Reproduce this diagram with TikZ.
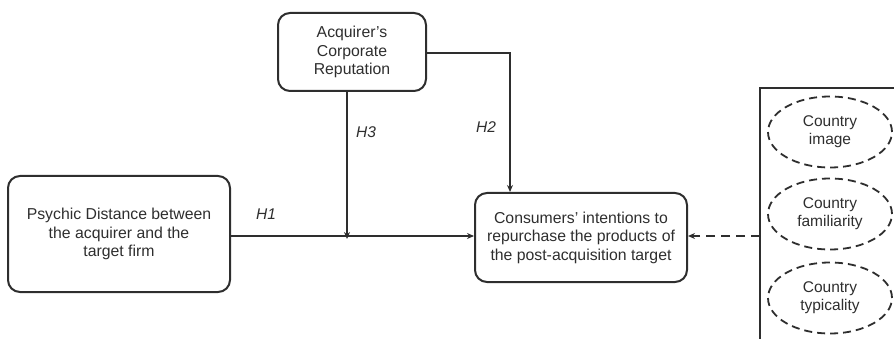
\documentclass[tikz,border=0pt]{standalone}
\usepackage{fontspec}
\setmainfont{Liberation Sans}
\usetikzlibrary{shapes.geometric,arrows.meta}
\definecolor{ink}{HTML}{2E2E2E}
\tikzset{
  construct/.style={draw=ink, line width=2pt, rounded corners=12pt, align=center,
    font=\fontsize{15.8}{18.5}\selectfont, text=ink, inner sep=0pt},
  factor/.style={ellipse, draw=ink, line width=1.8pt, dash pattern=on 8pt off 5pt,
    minimum width=124pt, minimum height=71pt, align=center,
    font=\fontsize{15.5}{18}\selectfont, text=ink, inner sep=0pt},
  link/.style={draw=ink, line width=1.4pt, -{Stealth[length=7pt,width=6pt]}},
  hyp/.style={font=\itshape\fontsize{15.5}{16}\selectfont, text=ink}
}
\begin{document}
\begin{tikzpicture}[x=1pt,y=-1pt]
  \useasboundingbox (0,0) rectangle (894,339);
  \clip (0,0) rectangle (894,339);
  % constructs
  \node[construct, minimum width=148pt, minimum height=78pt] (rep) at (352,52)
    {Acquirer's\\Corporate\\Reputation};
  \node[construct, minimum width=222pt, minimum height=116pt] (pd) at (119,234)
    {Psychic Distance between\\the acquirer and the\\target firm};
  \node[construct, minimum width=212pt, minimum height=89pt] (ci) at (581,237.5)
    {Consumers' intentions to\\repurchase the products of\\the post-acquisition target};
  % country-level frame, running off the page on the right and below
  \draw[ink, line width=2pt] (900,88) -- (760,88) -- (760,345);
  \coordinate (frame) at (760,236);
  \node[factor] (img) at (830,132) {Country\\image};
  \node[factor] (fam) at (830,214) {Country\\familiarity};
  \node[factor] (typ) at (830,298) {Country\\typicality};
  % hypothesised paths
  \draw[link] (pd.east |- 0,236) -- (ci.west |- 0,236);
  \coordinate (mod) at (347,236);
  \draw[link] (rep.south -| mod) -- ([yshift=-3pt]mod);
  \draw[link] (rep.east |- 0,53) -| (ci.north -| 510,0);
  \draw[link, dash pattern=on 9pt off 6pt] (frame) -- (ci.east |- frame);
  % labels
  \node[hyp] (h1) at (266,214) {H1};
  \node[hyp] (h2) at (486,127) {H2};
  \node[hyp] (h3) at (366,132) {H3};
\end{tikzpicture}
\end{document}
